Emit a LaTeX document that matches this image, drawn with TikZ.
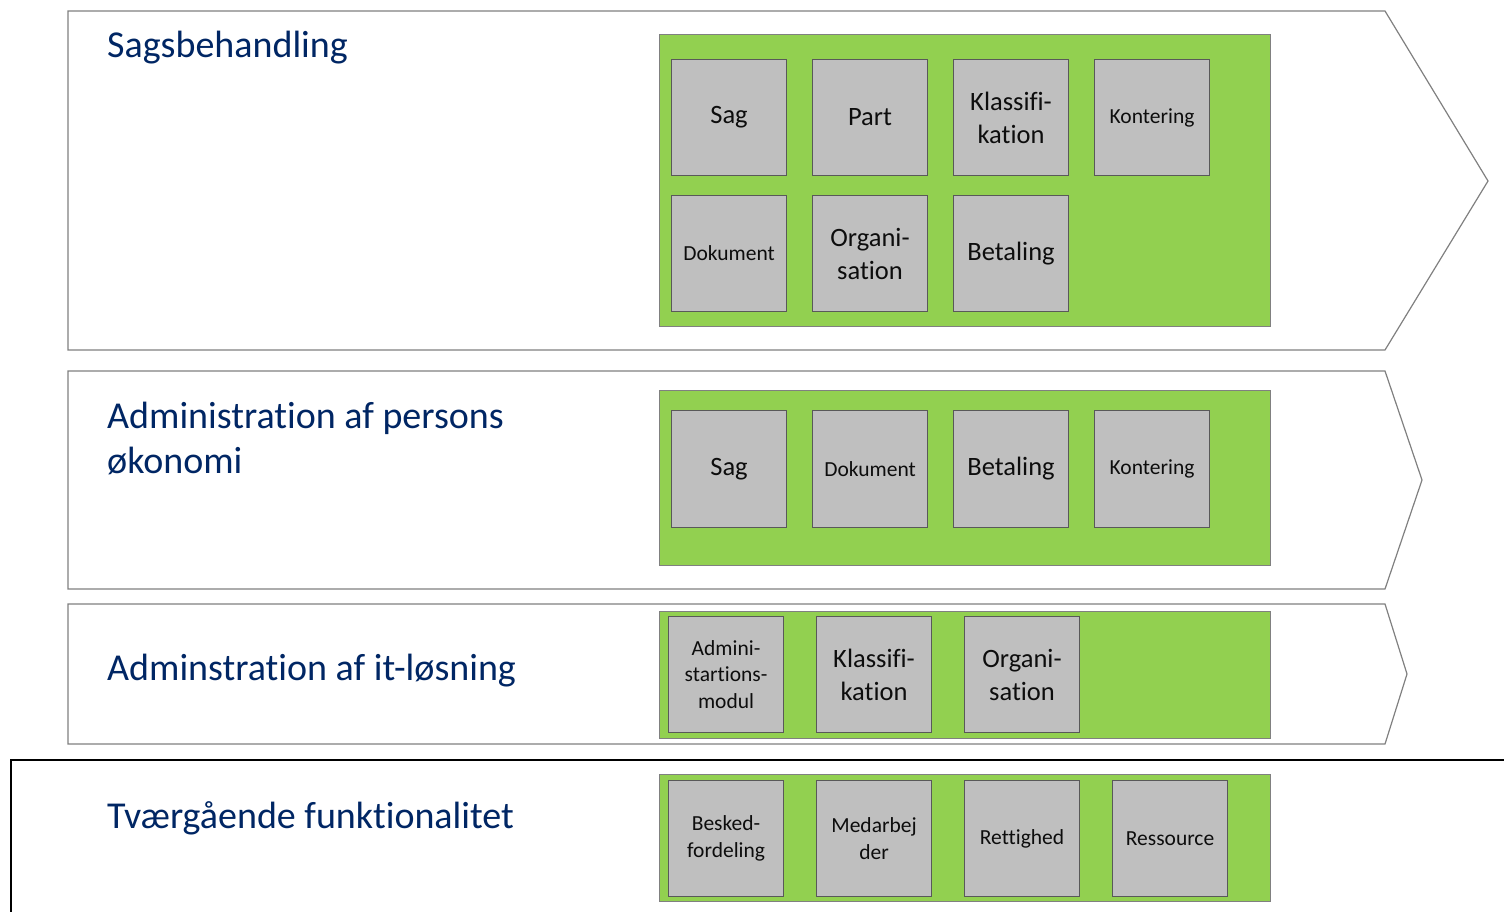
\documentclass[tikz,border=0pt]{standalone}
\usepackage{fontspec}
\setmainfont[Ligatures={NoCommon,NoContextual,NoRequired},RawFeature={-calt}]{Carlito}
\definecolor{navy}{RGB}{0,38,100}
\definecolor{chev}{RGB}{128,128,128}
\definecolor{grn}{RGB}{146,208,80}
\definecolor{gry}{RGB}{191,191,191}
\definecolor{gryline}{RGB}{89,89,89}
\begin{document}
\begin{tikzpicture}[x=1pt,y=-1pt,
  chevron/.style={draw=chev,line width=1.2pt,fill=white},
  container/.style={draw=chev,line width=1.2pt,fill=grn,anchor=north west,inner sep=0pt},
  modbox/.style={draw=gryline,line width=1.1pt,fill=gry,anchor=north west,inner sep=0pt,
    minimum width=115pt,minimum height=116pt},
  lbl/.style={align=center,text=black!95,font=\fontsize{26.5}{33}\selectfont},
  slbl/.style={align=center,text=black!95,font=\fontsize{21.5}{26.5}\selectfont},
  title/.style={anchor=base west,text=navy,inner sep=0pt,font=\fontsize{38}{45}\selectfont}]
\useasboundingbox (0,0) rectangle (1504,911);
\clip (0,0) rectangle (1504,911);
% chevrons
\draw[chevron] (68,11) -- (1385,11) -- (1488,181) -- (1385,350) -- (68,350) -- cycle;
\draw[chevron] (68,371) -- (1385,371) -- (1422,480) -- (1385,589) -- (68,589) -- cycle;
\draw[chevron] (68,604) -- (1385,604) -- (1407,674) -- (1385,744) -- (68,744) -- cycle;
\draw[black,line width=1.8pt] (1520,760) -- (11,760) -- (11,930);
% titles
\node[title] (t1) at (107,57) {Sagsbehandling};
\node[title] (t2a) at (107,428) {Administration af persons};
\node[title] (t2b) at (107,473) {økonomi};
\node[title] (t3) at (107,680) {Adminstration af it-løsning};
\node[title] (t4) at (107,828) {Tværgående funktionalitet};
% containers
\node[container,minimum width=611pt,minimum height=292pt] (g1) at (659,34) {};
\node[container,minimum width=611pt,minimum height=175pt] (g2) at (659,390) {};
\node[container,minimum width=611pt,minimum height=127pt] (g3) at (659,611) {};
\node[container,minimum width=611pt,minimum height=127pt] (g4) at (659,774) {};
% row 1
\node[modbox] (a1) at (671,59) {};
\node[lbl] at (a1.center) {Sag};
\node[modbox] (a2) at (812,59) {};
\node[lbl] at (a2.center) {Part};
\node[modbox] (a3) at (953,59) {};
\node[lbl] at (a3.center) {Klassifi-\\kation};
\node[modbox] (a4) at (1094,59) {};
\node[slbl] at (a4.center) {Kontering};
\node[modbox] (a5) at (671,195) {};
\node[slbl] at (a5.center) {Dokument};
\node[modbox] (a6) at (812,195) {};
\node[lbl] at (a6.center) {Organi-\\sation};
\node[modbox] (a7) at (953,195) {};
\node[lbl] at (a7.center) {Betaling};
% row 2
\node[modbox,minimum height=117pt] (b1) at (671,410) {};
\node[lbl] at (b1.center) {Sag};
\node[modbox,minimum height=117pt] (b2) at (812,410) {};
\node[slbl] at (b2.center) {Dokument};
\node[modbox,minimum height=117pt] (b3) at (953,410) {};
\node[lbl] at (b3.center) {Betaling};
\node[modbox,minimum height=117pt] (b4) at (1094,410) {};
\node[slbl] at (b4.center) {Kontering};
% row 3
\node[modbox] (c1) at (668,616) {};
\node[slbl] at (c1.center) {Admini-\\startions-\\modul};
\node[modbox] (c2) at (816,616) {};
\node[lbl] at (c2.center) {Klassifi-\\kation};
\node[modbox] (c3) at (964,616) {};
\node[lbl] at (c3.center) {Organi-\\sation};
% row 4
\node[modbox] (d1) at (668,780) {};
\node[slbl] at (d1.center) {Besked-\\fordeling};
\node[modbox] (d2) at (816,780) {};
\node[slbl] at (d2.center) {Medarbej\\der};
\node[modbox] (d3) at (964,780) {};
\node[slbl] at (d3.center) {Rettighed};
\node[modbox] (d4) at (1112,780) {};
\node[slbl] at (d4.center) {Ressource};
\end{tikzpicture}
\end{document}
